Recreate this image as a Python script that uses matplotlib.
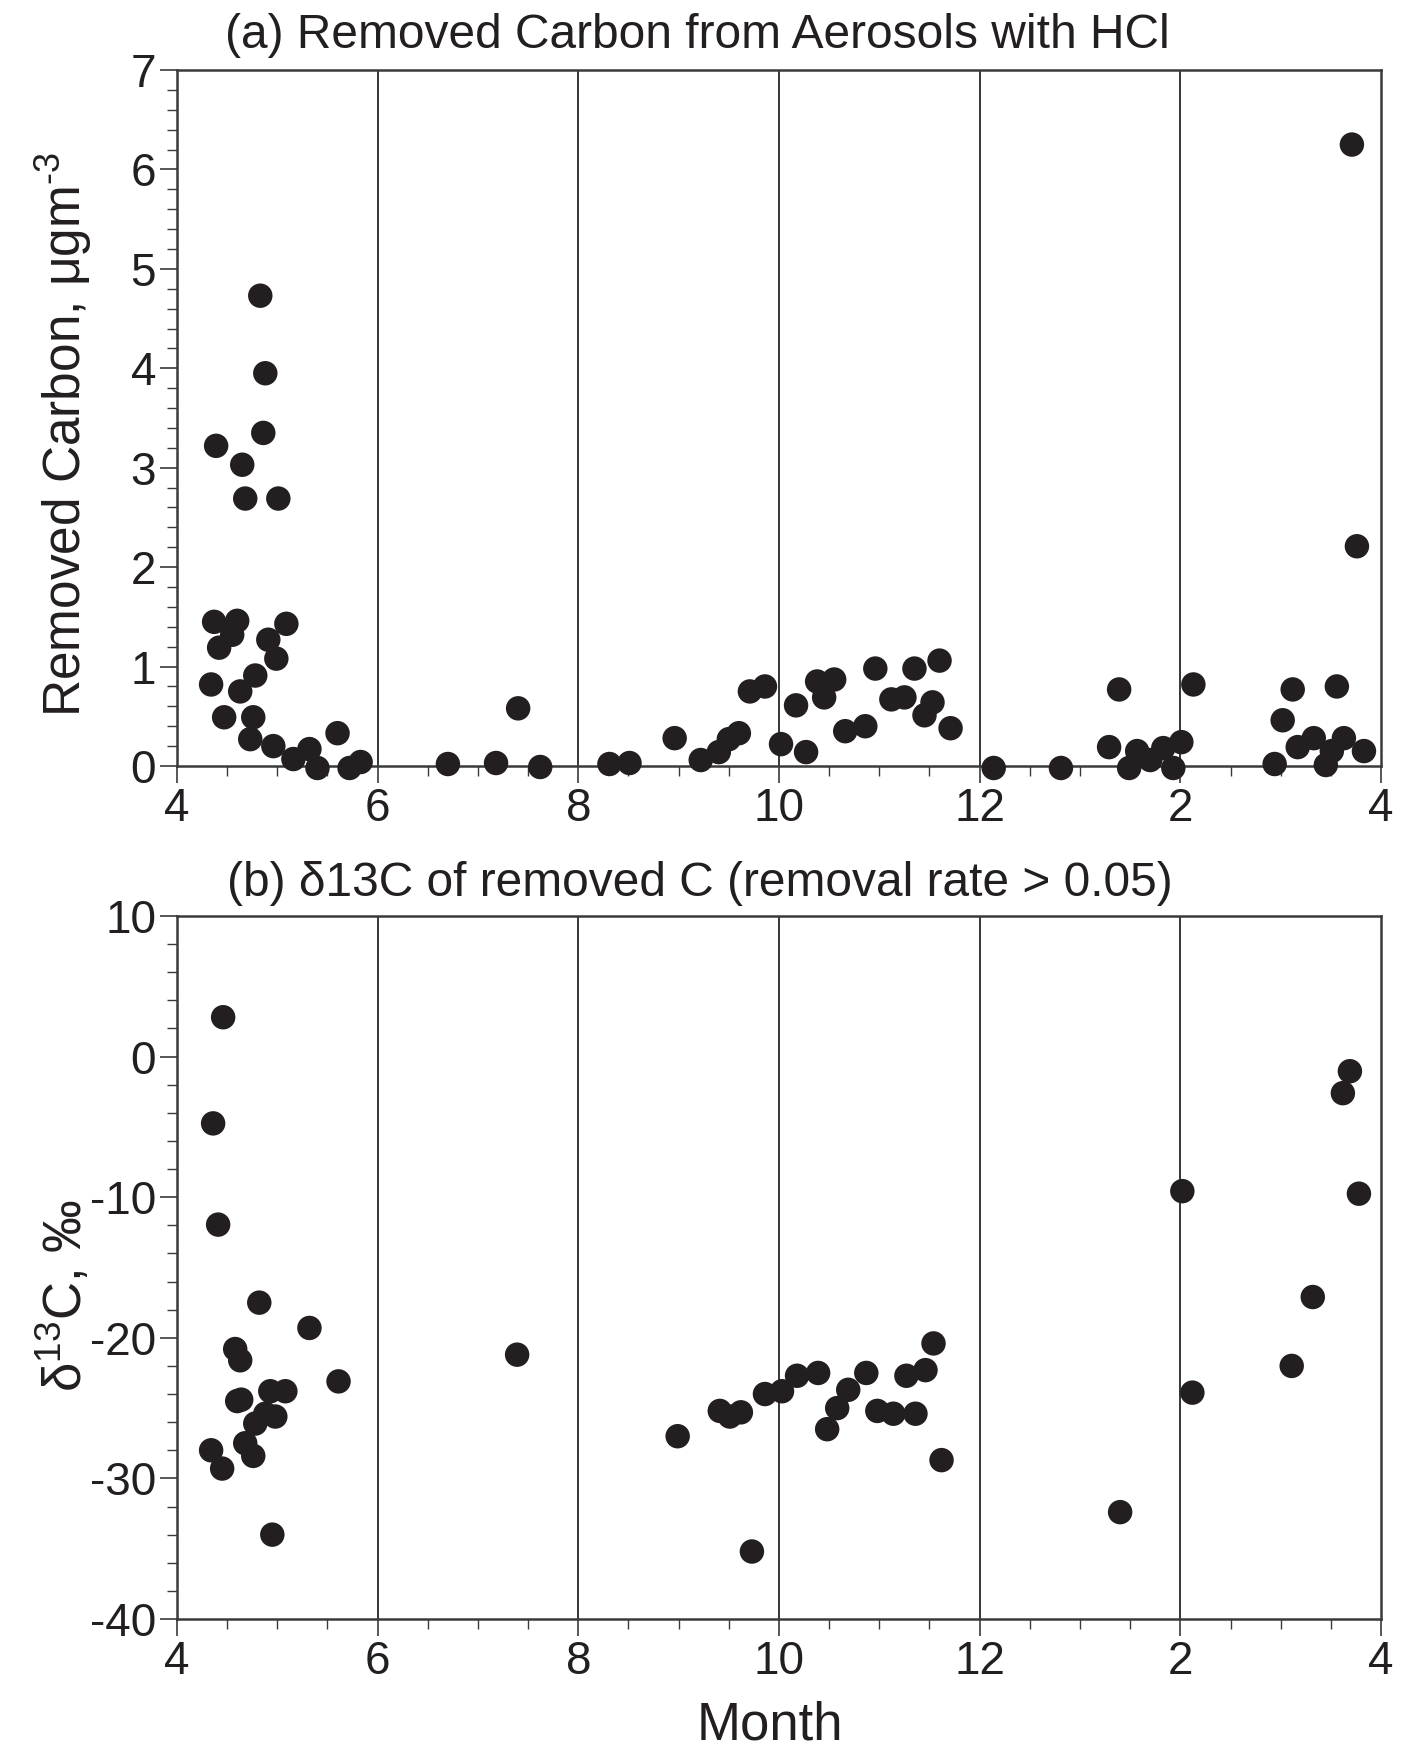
import matplotlib
matplotlib.use("Agg")
import matplotlib.pyplot as plt
from matplotlib.ticker import MultipleLocator, FixedLocator

plt.rcParams['font.family'] = ['Liberation Sans', 'DejaVu Sans']
plt.rcParams['axes.unicode_minus'] = False
plt.rcParams['mathtext.fontset'] = 'custom'
plt.rcParams['mathtext.rm'] = 'Liberation Sans'

# Month axis: 4..16 continuous (13..16 = Jan..Apr of the next year)
month_ticks = [4, 6, 8, 10, 12, 14, 16]
month_labels = ["4", "6", "8", "10", "12", "2", "4"]

# (a) Removed carbon (ug m-3)
a_month = [4.37, 4.60, 4.55, 4.42, 5.09, 4.91, 4.99, 4.78, 4.34, 4.63,
           4.47, 4.76, 4.73, 4.96, 5.60, 5.16, 5.32, 5.40, 5.72, 5.83,
           4.83, 4.88, 4.86, 4.39, 4.65, 4.68, 5.01,
           6.70, 7.18, 7.40, 7.62, 8.31, 8.51, 8.96, 9.22, 9.40, 9.50,
           9.60, 9.71, 9.86, 10.02, 10.17, 10.27, 10.38, 10.55, 10.45, 10.66,
           10.86, 10.96, 11.12, 11.25, 11.35, 11.53, 11.45, 11.60, 11.71,
           12.14, 12.81, 13.29, 13.39, 13.49, 13.57, 13.70, 13.83, 13.93,
           14.01, 14.13,
           14.94, 15.02, 15.12, 15.17, 15.33, 15.45, 15.51, 15.56, 15.63,
           15.83, 15.71, 15.76]
a_carbon = [1.45, 1.46, 1.32, 1.19, 1.43, 1.27, 1.08, 0.91, 0.82, 0.75,
            0.49, 0.49, 0.27, 0.20, 0.33, 0.07, 0.17, -0.02, -0.02, 0.04,
            4.73, 3.95, 3.35, 3.22, 3.03, 2.69, 2.69,
            0.02, 0.03, 0.58, -0.01, 0.02, 0.03, 0.28, 0.06, 0.14, 0.27,
            0.33, 0.75, 0.80, 0.22, 0.61, 0.14, 0.85, 0.87, 0.69, 0.35,
            0.40, 0.98, 0.67, 0.69, 0.98, 0.64, 0.51, 1.06, 0.38,
            -0.02, -0.02, 0.19, 0.77, -0.02, 0.15, 0.06, 0.18, -0.02,
            0.24, 0.82,
            0.02, 0.46, 0.77, 0.19, 0.28, 0.01, 0.15, 0.80, 0.28,
            0.15, 6.25, 2.21]

# (b) delta13C of removed C (permil)
b_month = [4.46, 4.36, 4.41, 4.82, 5.32, 4.58, 4.63, 5.61, 4.60, 4.64,
           4.93, 5.08, 4.88, 4.98, 4.78, 4.68, 4.76, 4.34, 4.45, 4.95,
           7.39,
           8.99, 9.41, 9.51, 9.62, 9.73, 9.86, 10.03, 10.18, 10.39, 10.48,
           10.58, 10.69, 10.87, 10.98, 11.14, 11.27, 11.36, 11.46, 11.54, 11.62,
           13.40, 14.02, 14.12, 15.11, 15.32, 15.62, 15.69, 15.78]
b_d13c = [2.8, -4.75, -11.95, -17.5, -19.3, -20.8, -21.6, -23.1, -24.5, -24.4,
          -23.8, -23.8, -25.4, -25.6, -26.1, -27.5, -28.4, -28.0, -29.3, -34.0,
          -21.2,
          -27.0, -25.2, -25.6, -25.3, -35.2, -24.0, -23.8, -22.7, -22.5, -26.5,
          -25.0, -23.7, -22.5, -25.2, -25.4, -22.7, -25.4, -22.3, -20.4, -28.7,
          -32.4, -9.57, -23.9, -22.0, -17.1, -2.6, -1.04, -9.75]

W, H = 1403, 1750
fig = plt.figure(figsize=(W / 100, H / 100), dpi=100)

left = 177 / W
right = 1381 / W
axA = fig.add_axes([left, 1 - 766 / H, right - left, (766 - 70) / H])
axB = fig.add_axes([left, 1 - 1619 / H, right - left, (1619 - 916) / H])

mc = '#231f20'
spine_c = '#3a3a3a'
for ax in (axA, axB):
    ax.set_xlim(4, 16)
    ax.xaxis.set_major_locator(FixedLocator(month_ticks))
    ax.set_xticklabels(month_labels)
    ax.xaxis.set_minor_locator(MultipleLocator(0.5))
    for g in month_ticks[1:-1]:
        ax.axvline(g, color='black', lw=1.1, zorder=1)
    for s in ax.spines.values():
        s.set_color(spine_c)
        s.set_linewidth(1.8)
    ax.tick_params(which='major', direction='out', length=12, width=1.2,
                   color=spine_c, labelsize=33, pad=3, labelcolor='#231f20')
    ax.tick_params(which='minor', direction='out', length=7, width=1.0,
                   color=spine_c)
    ax.tick_params(top=False, right=False, which='both')

axA.scatter(a_month, a_carbon, s=310, color=mc, edgecolors='none', zorder=3,
            clip_on=False)
axA.set_ylim(0, 7)
axA.yaxis.set_major_locator(MultipleLocator(1))
axA.yaxis.set_minor_locator(MultipleLocator(0.2))

axB.scatter(b_month, b_d13c, s=310, color=mc, edgecolors='none', zorder=3,
            clip_on=False)
axB.set_ylim(-40, 10)
axB.yaxis.set_major_locator(MultipleLocator(10))
axB.yaxis.set_minor_locator(MultipleLocator(2))

tc = '#231f20'
fig.text(0.497, 1 - 35 / H, "(a) Removed Carbon from Aerosols with HCl",
         ha='center', va='center', fontsize=34.5, color=tc)
fig.text(0.499, 1 - 884 / H, "(b) δ13C of removed C (removal rate > 0.05)",
         ha='center', va='center', fontsize=34.5, color=tc)
fig.text(64 / W, 1 - 434 / H, r"Removed Carbon, μgm$^{\mathregular{‐3}}$",
         rotation=90, ha='center', va='center', fontsize=37, color=tc)
fig.text(64 / W, 1 - 1295 / H, r"δ$^{\mathregular{13}}$C, ‰",
         rotation=90, ha='center', va='center', fontsize=38, color=tc)
fig.text(770 / W, 1 - 1726 / H, "Month", ha='center', va='center',
         fontsize=38, color=tc)

fig.savefig("out.png", dpi=100)
